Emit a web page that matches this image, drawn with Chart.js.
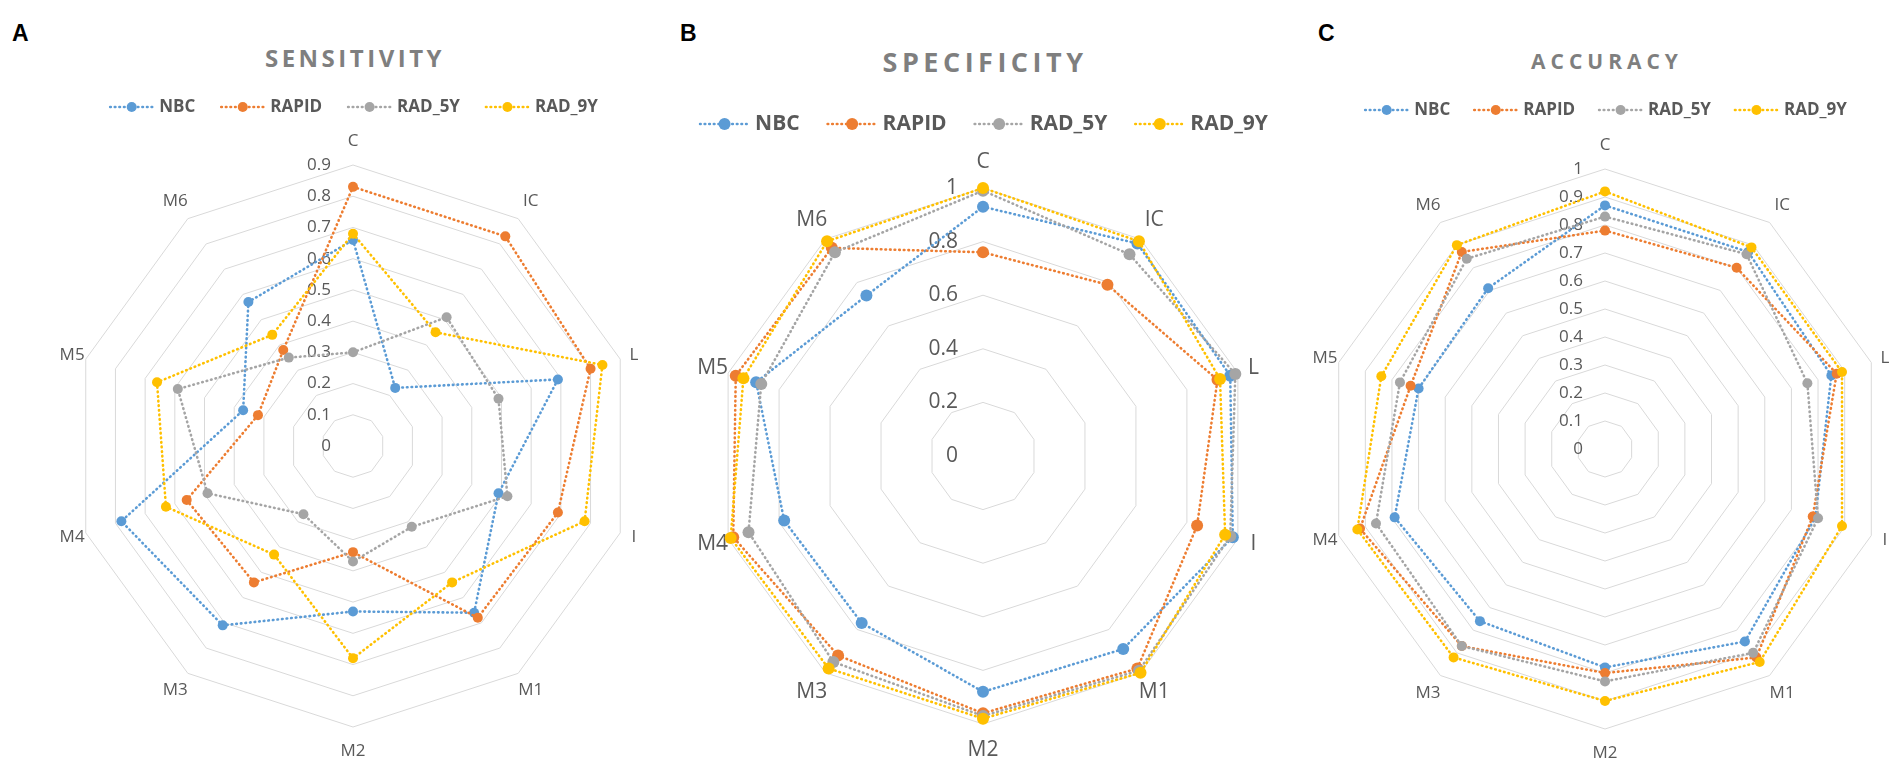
<!DOCTYPE html>
<html>
<head>
<meta charset="utf-8">
<script src="https://cdn.jsdelivr.net/npm/chart.js@4.4.1/dist/chart.umd.min.js"></script>
<style>
  html, body { margin: 0; padding: 0; background: #fff; width: 1904px; height: 771px; overflow: hidden; }
  .letter { position: absolute; font: bold 23px "Liberation Sans", Arial, sans-serif; color: #000; line-height: 1; }
  .title { position: absolute; transform: translateX(-50%); font-family: "Open Sans"; font-weight: 700;
           color: #7f7f7f; white-space: nowrap; line-height: 1; }
  canvas { position: absolute; top: 0; }
</style>
</head>
<body>
<div class="letter" style="left:12px; top:22px">A</div>
<div class="letter" style="left:680px; top:22px">B</div>
<div class="letter" style="left:1318px; top:22px">C</div>

<div class="title" style="left:355px; top:46px; font-size:24px; letter-spacing:3.5px">SENSITIVITY</div>
<div class="title" style="left:985px; top:48px; font-size:27px; letter-spacing:4.5px">SPECIFICITY</div>
<div class="title" style="left:1607px; top:51px; font-size:21px; letter-spacing:5px">ACCURACY</div>

<canvas id="chartA"></canvas>
<canvas id="chartB"></canvas>
<canvas id="chartC"></canvas>

<script>
const categories = ['C', 'IC', 'L', 'I', 'M1', 'M2', 'M3', 'M4', 'M5', 'M6'];
const seriesNames = ['NBC', 'RAPID', 'RAD_5Y', 'RAD_9Y'];
const seriesColors = ['#5B9BD5', '#ED7D31', '#A5A5A5', '#FFC000'];

// A - sensitivity
const sensNBC   = [0.66, 0.23, 0.69, 0.49, 0.66, 0.53, 0.71, 0.78, 0.37, 0.57];
const sensRAPID = [0.83, 0.83, 0.80, 0.69, 0.68, 0.34, 0.54, 0.56, 0.32, 0.38];
const sensRAD5  = [0.30, 0.51, 0.49, 0.52, 0.32, 0.37, 0.27, 0.49, 0.59, 0.35];
const sensRAD9  = [0.68, 0.45, 0.84, 0.78, 0.54, 0.68, 0.43, 0.63, 0.66, 0.44];
const sensTicks = ['0', '0.1', '0.2', '0.3', '0.4', '0.5', '0.6', '0.7', '0.8', '0.9'];

// B - specificity
const specNBC   = [0.93, 0.98, 0.97, 0.98, 0.89, 0.88, 0.77, 0.78, 0.89, 0.74];
const specRAPID = [0.76, 0.79, 0.92, 0.84, 0.98, 0.96, 0.92, 0.98, 0.97, 0.96];
const specRAD5  = [0.99, 0.93, 0.99, 0.97, 0.99, 0.97, 0.95, 0.92, 0.87, 0.94];
const specRAD9  = [1.00, 0.99, 0.93, 0.95, 1.00, 0.98, 0.98, 0.99, 0.94, 0.99];
const specTicks = ['0', '0.2', '0.4', '0.6', '0.8', '1'];

// C - accuracy
const accNBC   = [0.87, 0.87, 0.85, 0.79, 0.85, 0.78, 0.76, 0.79, 0.70, 0.71];
const accRAPID = [0.78, 0.80, 0.87, 0.78, 0.92, 0.80, 0.87, 0.92, 0.73, 0.87];
const accRAD5  = [0.83, 0.86, 0.76, 0.80, 0.90, 0.83, 0.87, 0.86, 0.77, 0.84];
const accRAD9  = [0.92, 0.89, 0.89, 0.89, 0.94, 0.90, 0.92, 0.93, 0.84, 0.90];
const accTicks = ['0', '0.1', '0.2', '0.3', '0.4', '0.5', '0.6', '0.7', '0.8', '0.9', '1'];

const H = 771;
const SIDE_PAD = 60;
const TEXT = '#595959';
const GRID = '#d9d9d9';
const LINE_W = 2.6;
const DOTS = [0.6, 4.0];

Chart.defaults.font.family = '"Open Sans", sans-serif';

// legend row: dotted line with marker, then bold name
function drawLegend(chart, o) {
    const ctx = chart.ctx;
    const items = chart.data.datasets;
    ctx.save();
    ctx.font = 'bold ' + o.size + 'px "Open Sans"';
    const widths = items.map(ds => ctx.measureText(ds.label).width);
    const total = widths.reduce((a, w) => a + o.icon + o.iconGap + w, 0) + o.gap * (items.length - 1);
    let x = chart.width / 2 - total / 2;
    const y = o.y;
    items.forEach((ds, i) => {
        ctx.strokeStyle = ds.borderColor;
        ctx.lineWidth = LINE_W;
        ctx.lineCap = 'round';
        ctx.setLineDash(DOTS);
        ctx.beginPath();
        ctx.moveTo(x + 2, y);
        ctx.lineTo(x + o.icon - 2, y);
        ctx.stroke();
        ctx.setLineDash([]);
        ctx.fillStyle = ds.borderColor;
        ctx.beginPath();
        ctx.arc(x + o.icon / 2, y, ds.pointRadius, 0, Math.PI * 2);
        ctx.fill();
        x += o.icon + o.iconGap;
        ctx.fillStyle = TEXT;
        ctx.textAlign = 'left';
        ctx.textBaseline = 'middle';
        ctx.fillText(ds.label, x, y);
        x += widths[i] + o.gap;
    });
    ctx.restore();
}

// tick labels left of the vertical axis (incl. 0), category labels, legend
const radarText = {
    id: 'radarText',
    beforeDatasetsDraw(chart, args, o) {
        const s = chart.scales.r;
        const ctx = chart.ctx;
        ctx.save();
        ctx.fillStyle = TEXT;
        ctx.textBaseline = 'middle';
        ctx.font = o.size + 'px "Open Sans"';
        ctx.textAlign = 'right';
        s.ticks.forEach(t => {
            ctx.fillText(t.label, s.xCenter - o.tickGap, s.yCenter - s.getDistanceFromCenterForValue(t.value));
        });
        ctx.textAlign = 'center';
        chart.data.labels.forEach((label, i) => {
            const a = s.getIndexAngle(i);
            const pos = s.getPointPosition(i, s.drawingArea + o.labelGap + o.labelLift * Math.abs(Math.cos(a)));
            ctx.fillText(label, pos.x, pos.y);
        });
        ctx.restore();
    },
    afterDraw(chart, args, o) {
        drawLegend(chart, o.legend);
    }
};

function makeRadar(id, p) {
    const W = 2 * p.radius + 2 * SIDE_PAD;
    const el = document.getElementById(id);
    el.width = W;
    el.height = H;
    el.style.left = (p.cx - W / 2) + 'px';

    // chart area runs to the bottom edge; top chosen so the web centre lands on cy
    const padTop = 2 * p.cy - H;

    const datasets = p.series.map((values, i) => ({
        label: seriesNames[i],
        data: values,
        borderColor: seriesColors[i],
        backgroundColor: seriesColors[i],
        pointBackgroundColor: seriesColors[i],
        pointBorderWidth: 0,
        pointRadius: p.pointR,
        borderWidth: LINE_W,
        borderDash: DOTS,
        borderCapStyle: 'round',
        fill: false,
        order: seriesNames.length - i
    }));

    return new Chart(el, {
        type: 'radar',
        data: { labels: categories, datasets },
        plugins: [radarText],
        options: {
            responsive: false,
            animation: false,
            events: [],
            layout: { padding: { top: padTop, bottom: 0, left: SIDE_PAD, right: SIDE_PAD } },
            scales: {
                r: {
                    min: 0,
                    max: p.max,
                    ticks: {
                        stepSize: p.step,
                        display: false,
                        callback: (v, i) => p.ticks[i]
                    },
                    grid: { color: GRID, lineWidth: 1 },
                    angleLines: { display: false },
                    pointLabels: { display: false }
                }
            },
            plugins: {
                tooltip: { enabled: false },
                legend: { display: false },
                radarText: p.text
            }
        }
    });
}

window.addEventListener('DOMContentLoaded', () => {
    makeRadar('chartA', {
        cx: 353, cy: 446, radius: 281, max: 0.9, step: 0.1, ticks: sensTicks,
        series: [sensNBC, sensRAPID, sensRAD5, sensRAD9], pointR: 5,
        text: { size: 17, tickGap: 22, labelGap: 10, labelLift: 14,
                legend: { y: 107, size: 17, icon: 47, iconGap: 4, gap: 24 } }
    });
    makeRadar('chartB', {
        cx: 983, cy: 456, radius: 268, max: 1, step: 0.2, ticks: specTicks,
        series: [specNBC, specRAPID, specRAD5, specRAD9], pointR: 6,
        text: { size: 21, tickGap: 25, labelGap: 12, labelLift: 14,
                legend: { y: 124, size: 21, icon: 53, iconGap: 4, gap: 26 } }
    });
    makeRadar('chartC', {
        cx: 1605, cy: 449, radius: 280, max: 1, step: 0.1, ticks: accTicks,
        series: [accNBC, accRAPID, accRAD5, accRAD9], pointR: 5,
        text: { size: 17, tickGap: 22, labelGap: 10, labelLift: 14,
                legend: { y: 110, size: 17, icon: 47, iconGap: 4, gap: 22 } }
    });
});
</script>
</body>
</html>
